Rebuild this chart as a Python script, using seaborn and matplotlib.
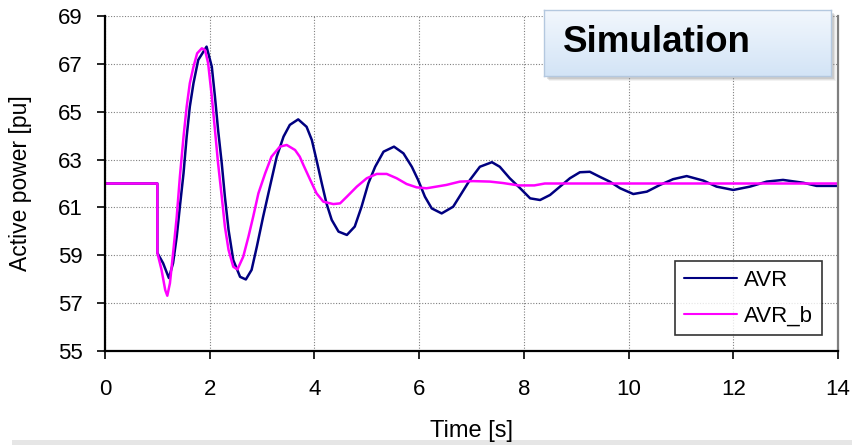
import numpy as np
import pandas as pd
import matplotlib
matplotlib.use("Agg")
import matplotlib.pyplot as plt
from matplotlib.patches import Rectangle
import seaborn as sns

# =====================
# Data
# =====================
t_avr = [0, 1.0, 1.0, 1.11, 1.22, 1.30, 1.37, 1.43, 1.50, 1.56, 1.62, 1.69, 1.78,
         1.94, 2.04, 2.10, 2.16, 2.23, 2.29, 2.36, 2.45, 2.58, 2.69, 2.80, 2.90,
         3.02, 3.15, 3.28, 3.41, 3.53, 3.69, 3.85, 3.95, 4.04, 4.14, 4.23, 4.33,
         4.46, 4.62, 4.77, 4.90, 5.03, 5.16, 5.32, 5.52, 5.70, 5.86, 5.98, 6.11,
         6.24, 6.43, 6.65, 6.81, 6.97, 7.16, 7.39, 7.54, 7.73, 7.93, 8.12, 8.31,
         8.50, 8.69, 8.88, 9.07, 9.26, 9.45, 9.64, 9.84, 10.09, 10.35, 10.60,
         10.85, 11.11, 11.43, 11.68, 12.0, 12.32, 12.64, 12.95, 13.34, 13.59, 14.0]
p_avr = [62.0, 62.0, 59.1, 58.67, 58.05, 58.67, 59.78, 61.03, 62.43, 63.96, 65.21,
         66.19, 67.16, 67.72, 66.88, 65.63, 64.24, 62.84, 61.45, 60.06, 58.80,
         58.10, 57.99, 58.39, 59.36, 60.61, 61.87, 63.12, 63.96, 64.45, 64.68,
         64.37, 63.82, 62.98, 62.01, 61.17, 60.48, 59.99, 59.85, 60.20, 61.03,
         62.01, 62.70, 63.33, 63.54, 63.26, 62.70, 62.15, 61.45, 60.96, 60.75,
         61.03, 61.59, 62.15, 62.70, 62.89, 62.70, 62.22, 61.80, 61.38, 61.31,
         61.52, 61.87, 62.22, 62.47, 62.49, 62.28, 62.08, 61.80, 61.56, 61.66,
         61.94, 62.18, 62.31, 62.12, 61.87, 61.73, 61.87, 62.08, 62.15, 62.03,
         61.90, 61.90]

t_avr_b = [0, 1.0, 1.0, 1.08, 1.15, 1.19, 1.24, 1.30, 1.37, 1.43, 1.50, 1.56, 1.62,
           1.69, 1.76, 1.85, 1.91, 1.97, 2.04, 2.10, 2.16, 2.23, 2.29, 2.36, 2.45,
           2.53, 2.64, 2.74, 2.83, 2.93, 3.06, 3.18, 3.34, 3.47, 3.63, 3.72, 3.79,
           3.92, 4.04, 4.17, 4.36, 4.49, 4.62, 4.81, 5.0, 5.19, 5.38, 5.57, 5.76,
           5.95, 6.14, 6.33, 6.52, 6.78, 7.03, 7.35, 7.6, 7.9, 8.2, 8.4, 14.0]
p_avr_b = [62.0, 62.0, 59.1, 58.39, 57.55, 57.31, 57.83, 59.08, 60.61, 62.28,
           63.96, 65.21, 66.19, 66.88, 67.44, 67.65, 67.58, 67.02, 65.63, 64.24,
           62.84, 61.45, 60.20, 59.22, 58.52, 58.41, 58.94, 59.78, 60.61, 61.59,
           62.43, 63.12, 63.54, 63.61, 63.40, 63.12, 62.77, 62.15, 61.59, 61.24,
           61.14, 61.17, 61.45, 61.87, 62.22, 62.40, 62.40, 62.22, 61.98, 61.84,
           61.80, 61.87, 61.94, 62.08, 62.10, 62.08, 62.02, 61.92, 61.92, 62.0,
           62.0]

series_names = ["AVR", "AVR_b"]
series_colors = {"AVR": "#000080", "AVR_b": "#ff00ff"}
x_ticks = list(range(0, 15, 2))
y_ticks = list(range(55, 70, 2))

df = pd.concat([
    pd.DataFrame({"Time": t_avr, "Power": p_avr, "Series": "AVR"}),
    pd.DataFrame({"Time": t_avr_b, "Power": p_avr_b, "Series": "AVR_b"}),
], ignore_index=True)

# =====================
# Figure
# =====================
sns.set_style("white")
plt.rcParams["font.family"] = ["Liberation Sans", "DejaVu Sans"]
plt.rcParams["text.color"] = "black"
plt.rcParams["axes.labelcolor"] = "black"

W, H = 852, 445
fig = plt.figure(figsize=(W / 100, H / 100), dpi=100)

# faint slide shading along the bottom edge (behind everything)
fig.add_artist(Rectangle((12 / W, 0), 1, 5 / H, transform=fig.transFigure,
                         facecolor="#e6e6e6", edgecolor="none", zorder=-1))

ax = fig.add_axes([105 / W, 94 / H, 733 / W, 335 / H])
ax.patch.set_alpha(0)

sns.lineplot(data=df, x="Time", y="Power", hue="Series", hue_order=series_names,
             palette=series_colors, estimator=None, sort=False, linewidth=1.8,
             ax=ax)

ax.set_xlim(0, 14)
ax.set_ylim(55, 69)
ax.set_xticks(x_ticks)
ax.set_yticks(y_ticks)
ax.grid(True, color="#808080", linestyle=(0, (1, 1.5)), linewidth=0.8)
ax.tick_params(axis="both", direction="out", length=6, width=1.2,
               labelsize=16, colors="black", left=True, bottom=True)
ax.tick_params(axis="y", pad=10)
ax.tick_params(axis="x", pad=14)

for side in ["left", "bottom"]:
    ax.spines[side].set_color("black")
    ax.spines[side].set_linewidth(1.6)
ax.spines["top"].set_visible(False)
ax.spines["right"].set_color("#7f7f7f")
ax.spines["right"].set_linewidth(1.6)

ax.set_xlabel("Time [s]", fontsize=17)
ax.set_ylabel("Active power [pu]", fontsize=16.5)
ax.xaxis.set_label_coords(0.5, -0.205)
ax.yaxis.set_label_coords(-0.100, 0.5)

leg = ax.legend(loc="lower right", bbox_to_anchor=(0.978, 0.047), fontsize=16,
                frameon=True, fancybox=False, handlelength=2.4,
                handletextpad=0.3, labelspacing=0.65, borderpad=0.4,
                borderaxespad=0)
leg.get_frame().set_edgecolor("black")
leg.get_frame().set_linewidth(1.2)
for line in leg.get_lines():
    line.set_linewidth(1.5)

# "Simulation" label box with a soft shadow
for off, a in [(5, 0.10), (4, 0.15), (3, 0.22)]:
    fig.add_artist(Rectangle(((544 + off) / W, (H - 76 - off) / H), 287 / W, 66 / H,
                             transform=fig.transFigure, facecolor="#808080",
                             alpha=a, edgecolor="none", zorder=0.5))
bax = fig.add_axes([544 / W, (H - 76) / H, 287 / W, 66 / H], zorder=2)
grad = np.linspace(0, 1, 64).reshape(-1, 1)
cmap = matplotlib.colors.LinearSegmentedColormap.from_list(
    "box", ["#f2f7fd", "#d3e4f6"])
bax.imshow(grad, aspect="auto", cmap=cmap, extent=[0, 1, 0, 1],
           origin="upper")
bax.set_xlim(0, 1)
bax.set_ylim(0, 1)
bax.set_xticks([])
bax.set_yticks([])
for s in bax.spines.values():
    s.set_color("#b4c8df")
    s.set_linewidth(1.0)
bax.text(0.066, 0.5, "Simulation", fontsize=26.5, fontweight="bold",
         color="black", ha="left", va="center", transform=bax.transAxes)

fig.savefig("out.png", dpi=100)
